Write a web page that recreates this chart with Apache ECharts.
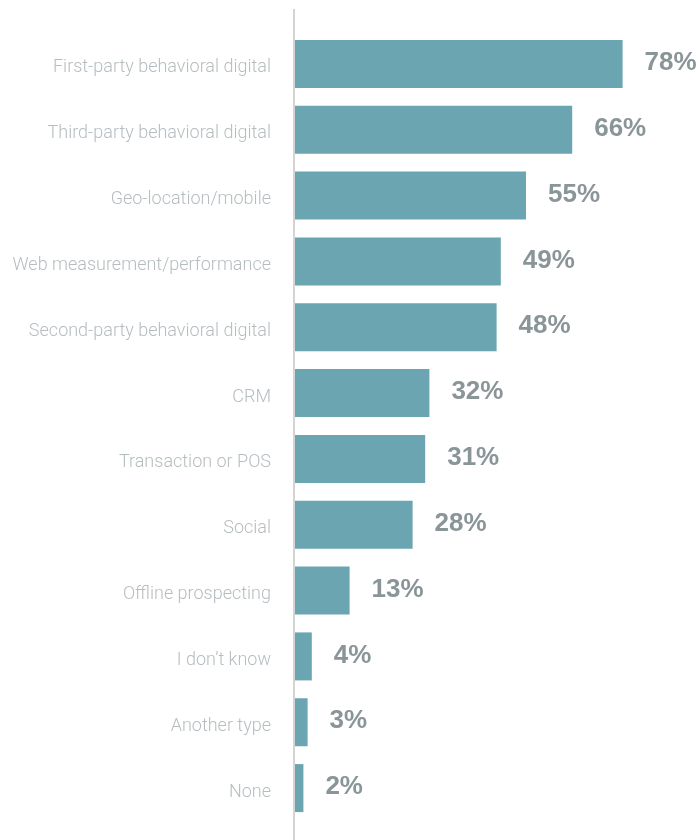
<!DOCTYPE html>
<html>
<head>
<meta charset="utf-8">
<script src="https://cdn.jsdelivr.net/npm/echarts@6/dist/echarts.min.js"></script>
<style>
  html, body { margin: 0; padding: 0; background: #ffffff; }
  #chart { width: 700px; height: 840px; }
</style>
</head>
<body>
<div id="chart"></div>
<script>
// Data sources used by marketers (share of respondents)
const categories = [
  'First-party behavioral digital',
  'Third-party behavioral digital',
  'Geo-location/mobile',
  'Web measurement/performance',
  'Second-party behavioral digital',
  'CRM',
  'Transaction or POS',
  'Social',
  'Offline prospecting',
  'I don\u2019t know',
  'Another type',
  'None'
];
const values = [78, 66, 55, 49, 48, 32, 31, 28, 13, 4, 3, 2];

const chart = echarts.init(document.getElementById('chart'), null, { renderer: 'canvas' });

chart.setOption({
  animation: false,
  backgroundColor: '#ffffff',
  grid: {
    left: 295, right: 6, top: 31, bottom: 19,
    containLabel: false,
    outerBoundsMode: 'none'
  },
  xAxis: {
    type: 'value',
    min: 0,
    max: 95,
    show: false
  },
  yAxis: {
    type: 'category',
    data: categories,
    inverse: true,
    axisLine: { show: false },
    axisTick: { show: false },
    splitLine: { show: false },
    axisLabel: {
      margin: 24,
      color: '#b6bdc0',
      fontFamily: 'Roboto, "Liberation Sans", sans-serif',
      fontWeight: 300,
      fontSize: 18,
      verticalAlign: 'top',
      lineHeight: 18,
      padding: [-5, 0, 0, 0]
    }
  },
  graphic: [{
    type: 'line',
    shape: { x1: 294, y1: 9, x2: 294, y2: 840 },
    style: { stroke: '#d4d4d4', lineWidth: 2 },
    z: 10
  }],
  series: [{
    type: 'bar',
    data: values,
    barWidth: 48,
    itemStyle: { color: '#6aa5b1' },
    label: {
      show: true,
      position: 'right',
      distance: 22,
      offset: [0, -1],
      formatter: '{c}%',
      color: '#8a9598',
      fontFamily: '"Liberation Sans", Arial, sans-serif',
      fontWeight: 'bold',
      fontSize: 26
    }
  }]
});
</script>
</body>
</html>
